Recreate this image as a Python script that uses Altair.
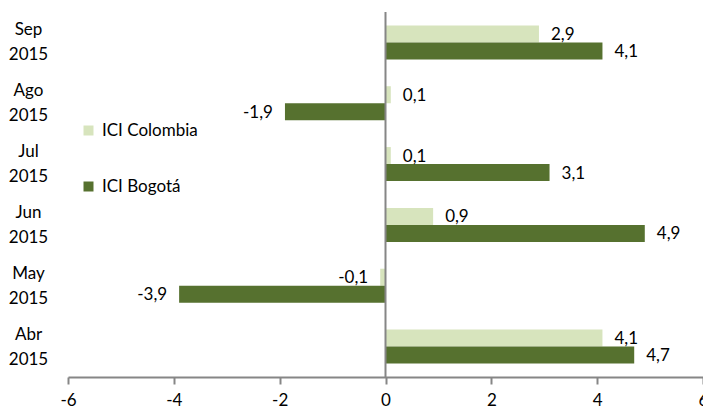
import altair as alt
import pandas as pd

months = ["Sep 2015", "Ago 2015", "Jul 2015", "Jun 2015", "May 2015", "Abr 2015"]
series = ["ICI Colombia", "ICI Bogotá"]
colombia = [2.9, 0.1, 0.1, 0.9, -0.1, 4.1]
bogota = [4.1, -1.9, 3.1, 4.9, -3.9, 4.7]
x_ticks = [-6, -4, -2, 0, 2, 4, 6]
colors = ["#d7e4bd", "#56712f"]

rows = []
for m, c, b in zip(months, colombia, bogota):
    rows.append({"month": m, "series": series[0], "value": c})
    rows.append({"month": m, "series": series[1], "value": b})
df = pd.DataFrame(rows)
df["label"] = df["value"].map(lambda v: f"{v:.1f}".replace(".", ","))

FONT = "Lato"
GRAY = "#868686"

y_enc = alt.Y(
    "month:N",
    sort=months,
    scale=alt.Scale(paddingInner=0.44, paddingOuter=0.22),
    axis=alt.Axis(
        title=None, domain=False, ticks=False, labelAlign="center",
        labelPadding=40, labelExpr="split(datum.label, ' ')",
        labelLineHeight=25, labelFontSize=17, labelFont=FONT,
        labelColor="#000000", labelBaseline="middle", labelOffset=-12,
    ),
)
yoff = alt.YOffset("series:N", sort=series, scale=alt.Scale(paddingInner=0, paddingOuter=0))
x_enc = alt.X(
    "value:Q",
    scale=alt.Scale(domain=[-6, 6], nice=False),
    axis=alt.Axis(
        title=None, grid=False, values=x_ticks, domainColor=GRAY, domainWidth=2,
        tickColor=GRAY, tickWidth=2, tickSize=7, labelFontSize=17, labelFont=FONT,
        labelColor="#000000", labelPadding=8, labelFlush=False,
        labelExpr="'' + datum.value",
    ),
)

base = alt.Chart(df)

bars = base.mark_bar().encode(
    x=x_enc,
    y=y_enc,
    yOffset=yoff,
    color=alt.Color(
        "series:N", sort=series,
        scale=alt.Scale(domain=series, range=colors),
        legend=alt.Legend(
            title=None, orient="none", legendX=12, legendY=110,
            direction="vertical", symbolType="square", symbolSize=100,
            symbolStrokeWidth=0, labelFontSize=17, labelFont=FONT,
            labelColor="#000000", labelOffset=5, rowPadding=38,
        ),
    ),
)

pos_text = base.transform_filter("datum.value >= 0").mark_text(
    align="left", baseline="middle", dx=12, dy=1, fontSize=17, font=FONT, color="#000000"
).encode(x="value:Q", y=alt.Y("month:N", sort=months), yOffset=yoff, text="label:N")

neg_text = base.transform_filter("datum.value < 0").mark_text(
    align="right", baseline="middle", dx=-12, dy=1, fontSize=17, font=FONT, color="#000000"
).encode(x="value:Q", y=alt.Y("month:N", sort=months), yOffset=yoff, text="label:N")

zero = alt.Chart(pd.DataFrame({"z": [0]})).mark_rule(color=GRAY, strokeWidth=2).encode(
    x=alt.X("z:Q")
)

chart = alt.layer(bars, pos_text, neg_text, zero).properties(
    width=635, height=365,
    autosize=alt.AutoSizeParams(type="none"),
    padding={"left": 60, "top": 4, "right": 0, "bottom": 33},
    background="white",
).configure_view(stroke=None)

chart.save("out.html", embed_options={"renderer": "svg", "actions": False})
